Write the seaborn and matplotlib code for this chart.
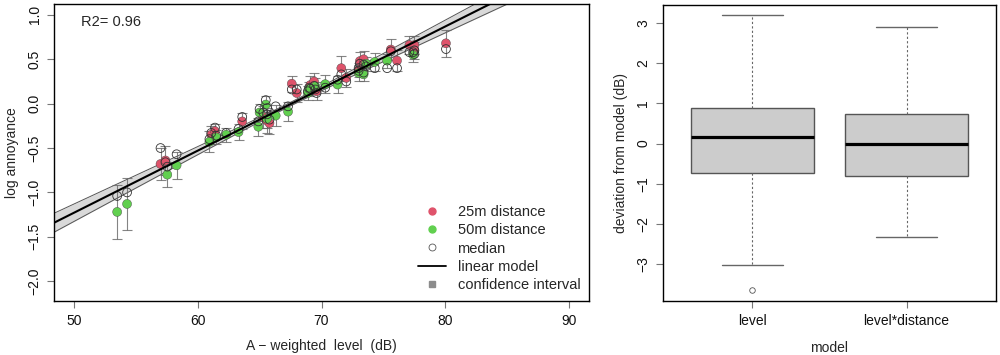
import numpy as np
import pandas as pd
import matplotlib
matplotlib.use("Agg")
import matplotlib.pyplot as plt
from matplotlib.lines import Line2D
import seaborn as sns

# stimuli at 25 m: level (dB), mean log annoyance, error bar half width, median
lvl_25 = [57.0, 57.4, 61.1, 61.4, 63.6, 65.3, 65.6, 65.8, 67.6, 68.0, 69.1, 69.4,
          69.6, 71.6, 72.0, 73.0, 73.1, 73.4, 75.6, 76.1, 77.1, 77.5, 77.5, 80.05]
mean_25 = [-0.68, -0.64, -0.35, -0.31, -0.20, -0.15, -0.19, -0.22, 0.225, 0.12, 0.21, 0.25,
           0.14, 0.40, 0.29, 0.38, 0.48, 0.50, 0.61, 0.485, 0.66, 0.66, 0.60, 0.68]
err_25 = [0.18, 0.16, 0.10, 0.08, 0.09, 0.12, 0.14, 0.12, 0.09, 0.10, 0.10, 0.10,
          0.10, 0.14, 0.10, 0.08, 0.10, 0.09, 0.12, 0.12, 0.10, 0.10, 0.10, 0.15]
med_25 = [-0.50, -0.66, -0.33, -0.27, -0.15, -0.10, -0.05, -0.18, 0.16, 0.16, 0.17, 0.20,
          0.12, 0.33, 0.25, 0.40, 0.45, 0.44, 0.59, 0.40, 0.58, 0.60, 0.56, 0.615]

# stimuli at 50 m
lvl_50 = [53.5, 54.3, 57.55, 58.3, 60.95, 61.5, 62.3, 63.3, 64.9, 65.0, 65.5, 65.6, 66.3,
          67.3, 68.9, 69.0, 69.5, 70.3, 71.3, 73.0, 73.4, 73.6, 74.3, 75.3, 77.4]
mean_50 = [-1.22, -1.13, -0.80, -0.695, -0.43, -0.38, -0.35, -0.32, -0.26, -0.10, -0.01, -0.17, -0.135,
           -0.09, 0.12, 0.165, 0.195, 0.22, 0.215, 0.345, 0.33, 0.45, 0.47, 0.485, 0.55]
err_50 = [0.30, 0.29, 0.14, 0.15, 0.12, 0.08, 0.08, 0.09, 0.10, 0.10, 0.10, 0.10, 0.12,
          0.11, 0.08, 0.08, 0.09, 0.10, 0.10, 0.09, 0.08, 0.08, 0.10, 0.08, 0.08]
med_50 = [-1.04, -1.00, -0.71, -0.57, -0.40, -0.36, -0.33, -0.285, -0.20, -0.06, 0.04, -0.12, -0.03,
          -0.03, 0.14, 0.18, 0.16, 0.18, 0.27, 0.37, 0.35, 0.42, 0.40, 0.40, 0.58]

# linear model
lm_intercept = -4.73
lm_slope = 0.070
ci_center = 67.5      # level where the band is narrowest
ci_half_min = 0.02
ci_half_slope = 0.0055

# boxplot summary of deviations (dB)
models = ["level", "level*distance"]
box_low = [-3.03, -2.32]
box_q1 = [-0.74, -0.80]
box_med = [0.17, 0.00]
box_q3 = [0.88, 0.74]
box_high = [3.19, 2.90]
box_out = [[-3.64], []]

red = "#DF536B"
green = "#61D04F"

sns.set_theme(style="ticks")
plt.rcParams["font.family"] = ["Liberation Sans", "DejaVu Sans"]
plt.rcParams["axes.unicode_minus"] = True

fig = plt.figure(figsize=(10, 3.55), dpi=100)
ax = fig.add_axes([0.054, 0.152, 0.535, 0.837])
ax2 = fig.add_axes([0.663, 0.152, 0.333, 0.834])

df = pd.concat([
    pd.DataFrame({"level": lvl_25, "mean": mean_25, "err": err_25, "median": med_25, "dist": "25m"}),
    pd.DataFrame({"level": lvl_50, "mean": mean_50, "err": err_50, "median": med_50, "dist": "50m"}),
], ignore_index=True)

# confidence band and line
xs = np.linspace(48.4, 91.6, 200)
yfit = lm_intercept + lm_slope * xs
half = np.sqrt(ci_half_min ** 2 + (ci_half_slope * (xs - ci_center)) ** 2)
ax.fill_between(xs, yfit - half, yfit + half, color="#d9d9d9", zorder=1, lw=0)
ax.plot(xs, yfit - half, color="#555555", lw=0.7, zorder=1)
ax.plot(xs, yfit + half, color="#555555", lw=0.7, zorder=1)

ax.errorbar(df["level"], df["mean"], yerr=df["err"], fmt="none", ecolor="#666666",
            elinewidth=0.8, capsize=3.6, capthick=0.8, alpha=0.8, zorder=2)
sns.scatterplot(data=df, x="level", y="mean", hue="dist", palette={"25m": red, "50m": green},
                s=42, edgecolor="#444444", linewidth=0.3, legend=False, ax=ax, zorder=3)
sns.scatterplot(data=df, x="level", y="median", s=40, facecolor="none", edgecolor="#333333",
                linewidth=0.6, legend=False, ax=ax, zorder=4)
sns.lineplot(x=xs, y=yfit, color="black", lw=1.5, ax=ax, zorder=5)

ax.set_xlim(48.4, 91.6)
ax.set_ylim(-2.224, 1.124)
ax.set_xticks([50, 60, 70, 80, 90])
ax.set_yticks([-2.0, -1.5, -1.0, -0.5, 0.0, 0.5, 1.0])
ax.set_yticklabels(["\u22122.0", "\u22121.5", "\u22121.0", "\u22120.5", "0.0", "0.5", "1.0"],
                   rotation=90, va="center")
ax.set_xlabel("A \u2212 weighted  level  (dB)", fontsize=10, labelpad=8)
ax.set_ylabel("log annoyance", fontsize=10, labelpad=6)
ax.text(0.05, 0.94, "R2= 0.96", transform=ax.transAxes, fontsize=10.5, va="center")

handles = [
    Line2D([], [], marker="o", ls="none", color=red, markersize=5),
    Line2D([], [], marker="o", ls="none", color=green, markersize=5),
    Line2D([], [], marker="o", ls="none", markerfacecolor="none", markeredgecolor="#555555",
           markersize=5, markeredgewidth=0.6),
    Line2D([], [], color="black", lw=1.3),
    Line2D([], [], marker="s", ls="none", color="#8c8c8c", markersize=5),
]
labels = ["25m distance", "50m distance", "median", "linear model", "confidence interval"]
ax.legend(handles, labels, loc="lower right", frameon=False, fontsize=10.5,
          handlelength=1.9, labelspacing=0.3, borderaxespad=0.2, handletextpad=0.8)

# right panel: boxplot of deviations
stats = []
for i, m in enumerate(models):
    stats.append({"label": m, "whislo": box_low[i], "q1": box_q1[i], "med": box_med[i],
                  "q3": box_q3[i], "whishi": box_high[i], "fliers": box_out[i]})
ax2.bxp(stats, positions=[1, 2], widths=0.8, capwidths=0.4, patch_artist=True,
        boxprops=dict(facecolor="#cccccc", edgecolor="#555555", lw=1),
        medianprops=dict(color="black", lw=2.3),
        whiskerprops=dict(color="#666666", ls=(0, (2, 2)), lw=0.8),
        capprops=dict(color="#666666", lw=1),
        flierprops=dict(marker="o", markerfacecolor="none", markeredgecolor="#555555",
                        markersize=4, markeredgewidth=0.6))
ax2.set_xlim(0.42, 2.58)
ax2.set_ylim(-3.92, 3.45)
ax2.set_yticks([-3, -2, -1, 0, 1, 2, 3])
ax2.set_yticklabels(["\u22123", "\u22122", "\u22121", "0", "1", "2", "3"], rotation=90, va="center")
ax2.set_xticks([1, 2])
ax2.set_xticklabels(models)
ax2.set_xlabel("model", fontsize=10, labelpad=10)
ax2.set_ylabel("deviation from model (dB)", fontsize=10, labelpad=6)

for a in (ax, ax2):
    for sp in a.spines.values():
        sp.set_visible(True)
        sp.set_color("black")
        sp.set_linewidth(1.0)
    a.tick_params(axis="both", length=5, width=0.8, color="#777777", labelsize=10,
                  labelcolor="#111111", pad=4)

fig.savefig("out.png", dpi=100)
